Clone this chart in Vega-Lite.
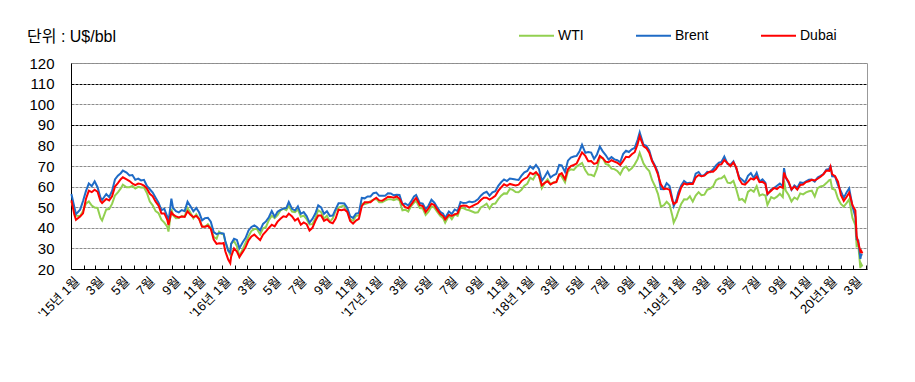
{
"$schema":"https://vega.github.io/schema/vega-lite/v6.json",
"autosize":{"type":"none"},
"padding":{"left":71,"top":63,"right":48,"bottom":113},
"width":796,"height":206,
"background":"white",
"config":{"view":{"stroke":"#999999","strokeWidth":1},"font":"Liberation Sans, Noto Sans CJK KR"},
"title":{"text":"단위 : U$/bbl","anchor":"start","frame":"group","dx":-44,"dy":48,"offset":20,"fontSize":16,"fontWeight":"normal","font":"Liberation Sans, Noto Sans CJK KR","color":"black"},
"datasets":{
"wti":[
{"d":"2015-01-02","v":52.7},{"d":"2015-01-09","v":48.4},{"d":"2015-01-13","v":45.9},{"d":"2015-01-23","v":45.6},{"d":"2015-01-30","v":48.2},{"d":"2015-02-06","v":51.7},{"d":"2015-02-13","v":52.8},{"d":"2015-02-20","v":50.8},{"d":"2015-02-27","v":49.8},{"d":"2015-03-06","v":49.6},{"d":"2015-03-13","v":44.8},{"d":"2015-03-17","v":43.5},{"d":"2015-03-27","v":48.9},{"d":"2015-04-03","v":49.1},{"d":"2015-04-10","v":51.6},{"d":"2015-04-17","v":55.7},{"d":"2015-04-24","v":57.2},{"d":"2015-05-01","v":59.1},{"d":"2015-05-06","v":60.9},{"d":"2015-05-15","v":59.7},{"d":"2015-05-22","v":59.7},{"d":"2015-05-29","v":60.3},{"d":"2015-06-05","v":59.1},{"d":"2015-06-12","v":59.9},{"d":"2015-06-19","v":59.6},{"d":"2015-06-26","v":59.6},{"d":"2015-07-03","v":56.9},{"d":"2015-07-10","v":52.7},{"d":"2015-07-17","v":50.9},{"d":"2015-07-24","v":48.1},{"d":"2015-07-31","v":47.1},{"d":"2015-08-07","v":43.9},{"d":"2015-08-14","v":42.5},{"d":"2015-08-21","v":40.5},{"d":"2015-08-24","v":38.2},{"d":"2015-08-31","v":49.2},{"d":"2015-09-04","v":46.1},{"d":"2015-09-11","v":44.6},{"d":"2015-09-18","v":44.7},{"d":"2015-09-25","v":45.7},{"d":"2015-10-02","v":45.5},{"d":"2015-10-09","v":49.6},{"d":"2015-10-16","v":47.3},{"d":"2015-10-23","v":44.6},{"d":"2015-10-30","v":46.6},{"d":"2015-11-06","v":44.3},{"d":"2015-11-13","v":40.7},{"d":"2015-11-20","v":40.5},{"d":"2015-11-27","v":41.7},{"d":"2015-12-04","v":39.9},{"d":"2015-12-11","v":35.6},{"d":"2015-12-18","v":34.7},{"d":"2015-12-24","v":38.1},{"d":"2015-12-31","v":37.0},
{"d":"2016-01-04","v":36.8},{"d":"2016-01-08","v":33.2},{"d":"2016-01-15","v":29.4},{"d":"2016-01-20","v":26.6},{"d":"2016-01-22","v":32.2},{"d":"2016-01-29","v":33.6},{"d":"2016-02-05","v":31.0},{"d":"2016-02-11","v":26.2},{"d":"2016-02-19","v":29.6},{"d":"2016-02-26","v":32.8},{"d":"2016-03-04","v":35.9},{"d":"2016-03-11","v":38.5},{"d":"2016-03-18","v":39.4},{"d":"2016-03-24","v":39.5},{"d":"2016-04-01","v":36.8},{"d":"2016-04-08","v":39.7},{"d":"2016-04-15","v":40.4},{"d":"2016-04-22","v":43.7},{"d":"2016-04-29","v":45.9},{"d":"2016-05-06","v":44.7},{"d":"2016-05-13","v":46.2},{"d":"2016-05-20","v":48.4},{"d":"2016-05-27","v":49.3},{"d":"2016-06-03","v":48.6},{"d":"2016-06-09","v":50.6},{"d":"2016-06-17","v":47.9},{"d":"2016-06-24","v":47.6},{"d":"2016-07-01","v":48.9},{"d":"2016-07-08","v":45.4},{"d":"2016-07-15","v":45.9},{"d":"2016-07-22","v":44.2},{"d":"2016-07-29","v":41.6},{"d":"2016-08-05","v":41.8},{"d":"2016-08-12","v":44.5},{"d":"2016-08-19","v":48.5},{"d":"2016-08-26","v":47.6},{"d":"2016-09-02","v":44.4},{"d":"2016-09-09","v":45.9},{"d":"2016-09-16","v":43.0},{"d":"2016-09-23","v":44.5},{"d":"2016-09-30","v":48.2},{"d":"2016-10-07","v":49.8},{"d":"2016-10-14","v":50.4},{"d":"2016-10-21","v":50.9},{"d":"2016-10-28","v":48.7},{"d":"2016-11-04","v":44.1},{"d":"2016-11-11","v":43.4},{"d":"2016-11-18","v":45.7},{"d":"2016-11-25","v":46.1},{"d":"2016-12-02","v":51.7},{"d":"2016-12-09","v":51.5},{"d":"2016-12-16","v":52.0},{"d":"2016-12-23","v":53.0},{"d":"2016-12-30","v":53.7},
{"d":"2017-01-06","v":54.0},{"d":"2017-01-13","v":52.4},{"d":"2017-01-20","v":52.4},{"d":"2017-01-27","v":53.2},{"d":"2017-02-03","v":53.8},{"d":"2017-02-10","v":53.9},{"d":"2017-02-17","v":53.4},{"d":"2017-02-24","v":54.0},{"d":"2017-03-03","v":53.3},{"d":"2017-03-10","v":48.5},{"d":"2017-03-17","v":48.8},{"d":"2017-03-24","v":47.9},{"d":"2017-03-31","v":50.6},{"d":"2017-04-07","v":52.2},{"d":"2017-04-12","v":53.1},{"d":"2017-04-21","v":49.6},{"d":"2017-04-28","v":49.3},{"d":"2017-05-05","v":46.2},{"d":"2017-05-12","v":47.8},{"d":"2017-05-19","v":50.3},{"d":"2017-05-26","v":49.8},{"d":"2017-06-02","v":47.7},{"d":"2017-06-09","v":45.8},{"d":"2017-06-16","v":44.7},{"d":"2017-06-21","v":42.5},{"d":"2017-06-30","v":46.0},{"d":"2017-07-07","v":44.2},{"d":"2017-07-14","v":46.5},{"d":"2017-07-21","v":45.8},{"d":"2017-07-28","v":49.7},{"d":"2017-08-04","v":49.6},{"d":"2017-08-11","v":48.8},{"d":"2017-08-18","v":48.5},{"d":"2017-08-25","v":47.9},{"d":"2017-09-01","v":47.3},{"d":"2017-09-08","v":47.5},{"d":"2017-09-15","v":49.9},{"d":"2017-09-22","v":50.7},{"d":"2017-09-29","v":51.7},{"d":"2017-10-06","v":49.3},{"d":"2017-10-13","v":51.5},{"d":"2017-10-20","v":51.8},{"d":"2017-10-27","v":53.9},{"d":"2017-11-03","v":55.6},{"d":"2017-11-10","v":56.7},{"d":"2017-11-17","v":56.6},{"d":"2017-11-24","v":58.9},{"d":"2017-12-01","v":58.4},{"d":"2017-12-08","v":57.4},{"d":"2017-12-15","v":57.3},{"d":"2017-12-22","v":58.5},{"d":"2017-12-29","v":60.4},
{"d":"2018-01-05","v":61.4},{"d":"2018-01-12","v":64.3},{"d":"2018-01-19","v":63.4},{"d":"2018-01-26","v":66.1},{"d":"2018-02-02","v":65.5},{"d":"2018-02-09","v":59.2},{"d":"2018-02-16","v":61.7},{"d":"2018-02-23","v":63.6},{"d":"2018-03-02","v":61.3},{"d":"2018-03-09","v":62.0},{"d":"2018-03-16","v":62.3},{"d":"2018-03-23","v":65.9},{"d":"2018-03-29","v":64.9},{"d":"2018-04-06","v":62.1},{"d":"2018-04-13","v":67.4},{"d":"2018-04-20","v":68.4},{"d":"2018-04-27","v":68.1},{"d":"2018-05-04","v":69.7},{"d":"2018-05-11","v":70.7},{"d":"2018-05-17","v":71.5},{"d":"2018-05-25","v":67.9},{"d":"2018-06-01","v":65.8},{"d":"2018-06-08","v":65.7},{"d":"2018-06-15","v":65.1},{"d":"2018-06-22","v":68.6},{"d":"2018-06-29","v":74.2},{"d":"2018-07-06","v":73.8},{"d":"2018-07-13","v":71.0},{"d":"2018-07-20","v":70.5},{"d":"2018-07-27","v":68.7},{"d":"2018-08-03","v":68.5},{"d":"2018-08-10","v":67.6},{"d":"2018-08-17","v":65.9},{"d":"2018-08-24","v":68.7},{"d":"2018-08-31","v":69.8},{"d":"2018-09-07","v":67.8},{"d":"2018-09-14","v":68.9},{"d":"2018-09-21","v":70.8},{"d":"2018-09-28","v":73.3},{"d":"2018-10-03","v":76.4},{"d":"2018-10-12","v":71.3},{"d":"2018-10-19","v":69.1},{"d":"2018-10-26","v":67.6},{"d":"2018-11-02","v":63.1},{"d":"2018-11-09","v":60.2},{"d":"2018-11-16","v":56.5},{"d":"2018-11-23","v":50.4},{"d":"2018-11-30","v":50.9},{"d":"2018-12-07","v":52.6},{"d":"2018-12-14","v":51.2},{"d":"2018-12-21","v":45.6},{"d":"2018-12-24","v":42.5},{"d":"2018-12-31","v":45.4},
{"d":"2019-01-04","v":47.9},{"d":"2019-01-11","v":51.6},{"d":"2019-01-18","v":53.8},{"d":"2019-01-25","v":53.7},{"d":"2019-02-01","v":55.3},{"d":"2019-02-08","v":52.7},{"d":"2019-02-15","v":55.6},{"d":"2019-02-22","v":57.3},{"d":"2019-03-01","v":55.8},{"d":"2019-03-08","v":56.1},{"d":"2019-03-15","v":58.5},{"d":"2019-03-22","v":59.0},{"d":"2019-03-29","v":60.1},{"d":"2019-04-05","v":63.1},{"d":"2019-04-12","v":63.9},{"d":"2019-04-18","v":64.0},{"d":"2019-04-25","v":65.2},{"d":"2019-05-03","v":61.9},{"d":"2019-05-10","v":61.7},{"d":"2019-05-17","v":62.8},{"d":"2019-05-24","v":58.6},{"d":"2019-05-31","v":53.5},{"d":"2019-06-07","v":54.0},{"d":"2019-06-14","v":52.5},{"d":"2019-06-21","v":57.4},{"d":"2019-06-28","v":58.5},{"d":"2019-07-05","v":57.5},{"d":"2019-07-12","v":60.2},{"d":"2019-07-19","v":55.6},{"d":"2019-07-26","v":56.2},{"d":"2019-08-02","v":55.7},{"d":"2019-08-07","v":51.1},{"d":"2019-08-16","v":54.9},{"d":"2019-08-23","v":54.2},{"d":"2019-08-30","v":55.1},{"d":"2019-09-06","v":56.5},{"d":"2019-09-13","v":54.9},{"d":"2019-09-16","v":62.9},{"d":"2019-09-20","v":58.1},{"d":"2019-09-27","v":55.9},{"d":"2019-10-04","v":52.8},{"d":"2019-10-11","v":54.7},{"d":"2019-10-18","v":53.8},{"d":"2019-10-25","v":56.7},{"d":"2019-11-01","v":56.2},{"d":"2019-11-08","v":57.2},{"d":"2019-11-15","v":57.7},{"d":"2019-11-22","v":58.0},{"d":"2019-11-29","v":55.2},{"d":"2019-12-06","v":59.2},{"d":"2019-12-13","v":60.1},{"d":"2019-12-20","v":60.4},{"d":"2019-12-27","v":61.7},
{"d":"2020-01-03","v":63.1},{"d":"2020-01-06","v":63.3},{"d":"2020-01-10","v":59.0},{"d":"2020-01-17","v":58.5},{"d":"2020-01-24","v":54.2},{"d":"2020-01-31","v":51.6},{"d":"2020-02-07","v":50.3},{"d":"2020-02-14","v":52.1},{"d":"2020-02-20","v":53.8},{"d":"2020-02-28","v":44.8},{"d":"2020-03-06","v":41.3},{"d":"2020-03-09","v":31.1},{"d":"2020-03-13","v":31.7},{"d":"2020-03-18","v":20.4},{"d":"2020-03-20","v":22.4},{"d":"2020-03-23","v":21.2}
],
"brent":[
{"d":"2015-01-02","v":56.4},{"d":"2015-01-09","v":50.1},{"d":"2015-01-13","v":46.6},{"d":"2015-01-23","v":48.8},{"d":"2015-01-30","v":53.0},{"d":"2015-02-06","v":57.8},{"d":"2015-02-13","v":61.5},{"d":"2015-02-20","v":60.2},{"d":"2015-02-27","v":62.6},{"d":"2015-03-06","v":59.7},{"d":"2015-03-13","v":54.7},{"d":"2015-03-17","v":53.5},{"d":"2015-03-27","v":56.4},{"d":"2015-04-03","v":54.9},{"d":"2015-04-10","v":57.9},{"d":"2015-04-17","v":63.5},{"d":"2015-04-24","v":65.3},{"d":"2015-05-01","v":66.5},{"d":"2015-05-06","v":67.8},{"d":"2015-05-15","v":66.8},{"d":"2015-05-22","v":65.4},{"d":"2015-05-29","v":65.6},{"d":"2015-06-05","v":63.3},{"d":"2015-06-12","v":63.9},{"d":"2015-06-19","v":63.0},{"d":"2015-06-26","v":63.3},{"d":"2015-07-03","v":60.3},{"d":"2015-07-10","v":58.7},{"d":"2015-07-17","v":57.1},{"d":"2015-07-24","v":54.6},{"d":"2015-07-31","v":52.2},{"d":"2015-08-07","v":48.6},{"d":"2015-08-14","v":49.2},{"d":"2015-08-21","v":45.5},{"d":"2015-08-24","v":42.7},{"d":"2015-08-31","v":54.2},{"d":"2015-09-04","v":49.6},{"d":"2015-09-11","v":48.1},{"d":"2015-09-18","v":47.5},{"d":"2015-09-25","v":48.6},{"d":"2015-10-02","v":48.1},{"d":"2015-10-09","v":52.7},{"d":"2015-10-16","v":50.5},{"d":"2015-10-23","v":48.0},{"d":"2015-10-30","v":49.6},{"d":"2015-11-06","v":47.4},{"d":"2015-11-13","v":43.6},{"d":"2015-11-20","v":44.7},{"d":"2015-11-27","v":44.9},{"d":"2015-12-04","v":43.0},{"d":"2015-12-11","v":37.9},{"d":"2015-12-18","v":36.9},{"d":"2015-12-24","v":37.4},{"d":"2015-12-31","v":37.3},
{"d":"2016-01-04","v":37.2},{"d":"2016-01-08","v":33.6},{"d":"2016-01-15","v":28.9},{"d":"2016-01-20","v":27.9},{"d":"2016-01-22","v":32.2},{"d":"2016-01-29","v":34.7},{"d":"2016-02-05","v":34.1},{"d":"2016-02-11","v":30.1},{"d":"2016-02-19","v":33.0},{"d":"2016-02-26","v":35.1},{"d":"2016-03-04","v":38.7},{"d":"2016-03-11","v":40.4},{"d":"2016-03-18","v":41.2},{"d":"2016-03-24","v":40.4},{"d":"2016-04-01","v":38.7},{"d":"2016-04-08","v":41.9},{"d":"2016-04-15","v":43.1},{"d":"2016-04-22","v":45.1},{"d":"2016-04-29","v":48.1},{"d":"2016-05-06","v":45.4},{"d":"2016-05-13","v":47.8},{"d":"2016-05-20","v":48.7},{"d":"2016-05-27","v":49.3},{"d":"2016-06-03","v":49.6},{"d":"2016-06-09","v":52.5},{"d":"2016-06-17","v":49.2},{"d":"2016-06-24","v":48.4},{"d":"2016-07-01","v":50.4},{"d":"2016-07-08","v":46.8},{"d":"2016-07-15","v":47.6},{"d":"2016-07-22","v":45.7},{"d":"2016-07-29","v":42.5},{"d":"2016-08-05","v":44.3},{"d":"2016-08-12","v":46.9},{"d":"2016-08-19","v":50.9},{"d":"2016-08-26","v":49.9},{"d":"2016-09-02","v":46.8},{"d":"2016-09-09","v":48.0},{"d":"2016-09-16","v":45.8},{"d":"2016-09-23","v":45.9},{"d":"2016-09-30","v":49.1},{"d":"2016-10-07","v":51.9},{"d":"2016-10-14","v":51.9},{"d":"2016-10-21","v":51.8},{"d":"2016-10-28","v":49.7},{"d":"2016-11-04","v":45.6},{"d":"2016-11-11","v":44.8},{"d":"2016-11-18","v":46.9},{"d":"2016-11-25","v":47.2},{"d":"2016-12-02","v":54.5},{"d":"2016-12-09","v":54.3},{"d":"2016-12-16","v":55.2},{"d":"2016-12-23","v":55.2},{"d":"2016-12-30","v":56.8},
{"d":"2017-01-06","v":57.1},{"d":"2017-01-13","v":55.5},{"d":"2017-01-20","v":55.5},{"d":"2017-01-27","v":55.5},{"d":"2017-02-03","v":56.8},{"d":"2017-02-10","v":56.7},{"d":"2017-02-17","v":55.8},{"d":"2017-02-24","v":56.0},{"d":"2017-03-03","v":55.9},{"d":"2017-03-10","v":51.4},{"d":"2017-03-17","v":51.8},{"d":"2017-03-24","v":50.8},{"d":"2017-03-31","v":52.8},{"d":"2017-04-07","v":55.2},{"d":"2017-04-12","v":55.9},{"d":"2017-04-21","v":52.0},{"d":"2017-04-28","v":51.7},{"d":"2017-05-05","v":49.1},{"d":"2017-05-12","v":50.8},{"d":"2017-05-19","v":53.6},{"d":"2017-05-26","v":52.2},{"d":"2017-06-02","v":49.9},{"d":"2017-06-09","v":47.8},{"d":"2017-06-16","v":46.8},{"d":"2017-06-21","v":44.8},{"d":"2017-06-30","v":47.9},{"d":"2017-07-07","v":46.7},{"d":"2017-07-14","v":48.9},{"d":"2017-07-21","v":48.1},{"d":"2017-07-28","v":52.5},{"d":"2017-08-04","v":52.0},{"d":"2017-08-11","v":52.1},{"d":"2017-08-18","v":52.7},{"d":"2017-08-25","v":52.4},{"d":"2017-09-01","v":52.8},{"d":"2017-09-08","v":53.8},{"d":"2017-09-15","v":55.6},{"d":"2017-09-22","v":56.9},{"d":"2017-09-29","v":57.5},{"d":"2017-10-06","v":55.6},{"d":"2017-10-13","v":57.2},{"d":"2017-10-20","v":57.8},{"d":"2017-10-27","v":60.4},{"d":"2017-11-03","v":62.1},{"d":"2017-11-10","v":63.5},{"d":"2017-11-17","v":62.7},{"d":"2017-11-24","v":63.9},{"d":"2017-12-01","v":63.7},{"d":"2017-12-08","v":63.4},{"d":"2017-12-15","v":63.2},{"d":"2017-12-22","v":65.3},{"d":"2017-12-29","v":66.9},
{"d":"2018-01-05","v":67.6},{"d":"2018-01-12","v":69.9},{"d":"2018-01-19","v":68.6},{"d":"2018-01-26","v":70.5},{"d":"2018-02-02","v":68.6},{"d":"2018-02-09","v":62.8},{"d":"2018-02-16","v":64.8},{"d":"2018-02-23","v":67.3},{"d":"2018-03-02","v":64.4},{"d":"2018-03-09","v":65.5},{"d":"2018-03-16","v":66.2},{"d":"2018-03-23","v":70.5},{"d":"2018-03-29","v":70.3},{"d":"2018-04-06","v":67.1},{"d":"2018-04-13","v":72.6},{"d":"2018-04-20","v":74.1},{"d":"2018-04-27","v":74.6},{"d":"2018-05-04","v":74.9},{"d":"2018-05-11","v":77.1},{"d":"2018-05-17","v":80.3},{"d":"2018-05-25","v":76.4},{"d":"2018-06-01","v":76.8},{"d":"2018-06-08","v":76.5},{"d":"2018-06-15","v":73.4},{"d":"2018-06-22","v":75.6},{"d":"2018-06-29","v":79.4},{"d":"2018-07-06","v":77.1},{"d":"2018-07-13","v":75.3},{"d":"2018-07-20","v":73.1},{"d":"2018-07-27","v":74.3},{"d":"2018-08-03","v":73.2},{"d":"2018-08-10","v":72.8},{"d":"2018-08-17","v":71.8},{"d":"2018-08-24","v":75.8},{"d":"2018-08-31","v":77.4},{"d":"2018-09-07","v":76.8},{"d":"2018-09-14","v":78.1},{"d":"2018-09-21","v":78.8},{"d":"2018-09-28","v":82.7},{"d":"2018-10-03","v":86.3},{"d":"2018-10-12","v":80.4},{"d":"2018-10-19","v":79.8},{"d":"2018-10-26","v":77.6},{"d":"2018-11-02","v":72.8},{"d":"2018-11-09","v":70.2},{"d":"2018-11-16","v":66.8},{"d":"2018-11-23","v":58.8},{"d":"2018-11-30","v":58.7},{"d":"2018-12-07","v":61.7},{"d":"2018-12-14","v":60.3},{"d":"2018-12-21","v":53.8},{"d":"2018-12-24","v":50.5},{"d":"2018-12-31","v":53.8},
{"d":"2019-01-04","v":57.1},{"d":"2019-01-11","v":60.5},{"d":"2019-01-18","v":62.7},{"d":"2019-01-25","v":61.6},{"d":"2019-02-01","v":61.9},{"d":"2019-02-08","v":61.6},{"d":"2019-02-15","v":66.3},{"d":"2019-02-22","v":67.1},{"d":"2019-03-01","v":65.1},{"d":"2019-03-08","v":65.7},{"d":"2019-03-15","v":67.2},{"d":"2019-03-22","v":67.0},{"d":"2019-03-29","v":68.4},{"d":"2019-04-05","v":70.3},{"d":"2019-04-12","v":71.6},{"d":"2019-04-18","v":72.0},{"d":"2019-04-25","v":74.6},{"d":"2019-05-03","v":70.9},{"d":"2019-05-10","v":70.6},{"d":"2019-05-17","v":72.2},{"d":"2019-05-24","v":68.7},{"d":"2019-05-31","v":64.5},{"d":"2019-06-07","v":63.3},{"d":"2019-06-14","v":62.0},{"d":"2019-06-21","v":65.2},{"d":"2019-06-28","v":66.6},{"d":"2019-07-05","v":64.2},{"d":"2019-07-12","v":66.7},{"d":"2019-07-19","v":62.5},{"d":"2019-07-26","v":63.5},{"d":"2019-08-02","v":61.9},{"d":"2019-08-07","v":56.2},{"d":"2019-08-16","v":58.6},{"d":"2019-08-23","v":59.3},{"d":"2019-08-30","v":60.4},{"d":"2019-09-06","v":61.5},{"d":"2019-09-13","v":60.2},{"d":"2019-09-16","v":69.0},{"d":"2019-09-20","v":64.3},{"d":"2019-09-27","v":61.9},{"d":"2019-10-04","v":58.4},{"d":"2019-10-11","v":60.5},{"d":"2019-10-18","v":59.4},{"d":"2019-10-25","v":62.0},{"d":"2019-11-01","v":61.7},{"d":"2019-11-08","v":62.5},{"d":"2019-11-15","v":63.3},{"d":"2019-11-22","v":63.4},{"d":"2019-11-29","v":62.4},{"d":"2019-12-06","v":64.4},{"d":"2019-12-13","v":65.2},{"d":"2019-12-20","v":66.1},{"d":"2019-12-27","v":68.2},
{"d":"2020-01-03","v":68.6},{"d":"2020-01-06","v":70.3},{"d":"2020-01-10","v":65.0},{"d":"2020-01-17","v":64.9},{"d":"2020-01-24","v":60.7},{"d":"2020-01-31","v":57.8},{"d":"2020-02-07","v":54.5},{"d":"2020-02-14","v":57.3},{"d":"2020-02-20","v":59.1},{"d":"2020-02-28","v":50.5},{"d":"2020-03-06","v":45.3},{"d":"2020-03-09","v":34.4},{"d":"2020-03-13","v":33.9},{"d":"2020-03-18","v":24.9},{"d":"2020-03-20","v":27.0},{"d":"2020-03-23","v":26.8}
],
"dubai":[
{"d":"2015-01-02","v":53.3},{"d":"2015-01-09","v":46.5},{"d":"2015-01-13","v":43.9},{"d":"2015-01-23","v":45.5},{"d":"2015-01-30","v":47.0},{"d":"2015-02-06","v":54.0},{"d":"2015-02-13","v":58.0},{"d":"2015-02-20","v":57.3},{"d":"2015-02-27","v":58.5},{"d":"2015-03-06","v":57.5},{"d":"2015-03-13","v":53.0},{"d":"2015-03-17","v":52.0},{"d":"2015-03-27","v":54.0},{"d":"2015-04-03","v":53.3},{"d":"2015-04-10","v":55.3},{"d":"2015-04-17","v":60.0},{"d":"2015-04-24","v":61.7},{"d":"2015-05-01","v":63.6},{"d":"2015-05-06","v":64.5},{"d":"2015-05-15","v":63.5},{"d":"2015-05-22","v":62.7},{"d":"2015-05-29","v":61.5},{"d":"2015-06-05","v":60.7},{"d":"2015-06-12","v":61.5},{"d":"2015-06-19","v":61.2},{"d":"2015-06-26","v":60.5},{"d":"2015-07-03","v":59.0},{"d":"2015-07-10","v":56.5},{"d":"2015-07-17","v":55.3},{"d":"2015-07-24","v":52.7},{"d":"2015-07-31","v":50.8},{"d":"2015-08-07","v":47.0},{"d":"2015-08-14","v":47.0},{"d":"2015-08-21","v":44.0},{"d":"2015-08-24","v":41.3},{"d":"2015-08-31","v":47.5},{"d":"2015-09-04","v":46.5},{"d":"2015-09-11","v":45.5},{"d":"2015-09-18","v":45.0},{"d":"2015-09-25","v":45.5},{"d":"2015-10-02","v":45.3},{"d":"2015-10-09","v":48.0},{"d":"2015-10-16","v":46.3},{"d":"2015-10-23","v":45.2},{"d":"2015-10-30","v":45.8},{"d":"2015-11-06","v":44.2},{"d":"2015-11-13","v":40.5},{"d":"2015-11-20","v":40.5},{"d":"2015-11-27","v":41.0},{"d":"2015-12-04","v":39.5},{"d":"2015-12-11","v":34.3},{"d":"2015-12-18","v":32.2},{"d":"2015-12-24","v":32.5},{"d":"2015-12-31","v":32.4},
{"d":"2016-01-04","v":32.6},{"d":"2016-01-08","v":28.6},{"d":"2016-01-15","v":24.6},{"d":"2016-01-20","v":22.8},{"d":"2016-01-22","v":26.0},{"d":"2016-01-29","v":30.0},{"d":"2016-02-05","v":28.5},{"d":"2016-02-11","v":25.8},{"d":"2016-02-19","v":28.3},{"d":"2016-02-26","v":30.6},{"d":"2016-03-04","v":33.9},{"d":"2016-03-11","v":35.8},{"d":"2016-03-18","v":36.7},{"d":"2016-03-24","v":35.5},{"d":"2016-04-01","v":34.0},{"d":"2016-04-08","v":36.7},{"d":"2016-04-15","v":38.3},{"d":"2016-04-22","v":40.0},{"d":"2016-04-29","v":41.5},{"d":"2016-05-06","v":40.7},{"d":"2016-05-13","v":43.0},{"d":"2016-05-20","v":44.4},{"d":"2016-05-27","v":45.6},{"d":"2016-06-03","v":45.3},{"d":"2016-06-09","v":46.9},{"d":"2016-06-17","v":45.5},{"d":"2016-06-24","v":43.5},{"d":"2016-07-01","v":44.5},{"d":"2016-07-08","v":41.5},{"d":"2016-07-15","v":42.6},{"d":"2016-07-22","v":41.8},{"d":"2016-07-29","v":38.7},{"d":"2016-08-05","v":40.0},{"d":"2016-08-12","v":43.3},{"d":"2016-08-19","v":46.0},{"d":"2016-08-26","v":46.0},{"d":"2016-09-02","v":43.4},{"d":"2016-09-09","v":44.2},{"d":"2016-09-16","v":42.7},{"d":"2016-09-23","v":42.2},{"d":"2016-09-30","v":44.5},{"d":"2016-10-07","v":48.8},{"d":"2016-10-14","v":48.5},{"d":"2016-10-21","v":48.9},{"d":"2016-10-28","v":47.7},{"d":"2016-11-04","v":43.3},{"d":"2016-11-11","v":42.0},{"d":"2016-11-18","v":43.5},{"d":"2016-11-25","v":44.3},{"d":"2016-12-02","v":50.5},{"d":"2016-12-09","v":52.4},{"d":"2016-12-16","v":52.4},{"d":"2016-12-23","v":52.4},{"d":"2016-12-30","v":53.6},
{"d":"2017-01-06","v":54.6},{"d":"2017-01-13","v":53.3},{"d":"2017-01-20","v":53.1},{"d":"2017-01-27","v":54.0},{"d":"2017-02-03","v":55.1},{"d":"2017-02-10","v":55.0},{"d":"2017-02-17","v":54.6},{"d":"2017-02-24","v":55.2},{"d":"2017-03-03","v":54.1},{"d":"2017-03-10","v":51.5},{"d":"2017-03-17","v":50.0},{"d":"2017-03-24","v":49.5},{"d":"2017-03-31","v":51.2},{"d":"2017-04-07","v":53.3},{"d":"2017-04-12","v":54.5},{"d":"2017-04-21","v":51.0},{"d":"2017-04-28","v":50.5},{"d":"2017-05-05","v":47.6},{"d":"2017-05-12","v":49.5},{"d":"2017-05-19","v":51.7},{"d":"2017-05-26","v":51.0},{"d":"2017-06-02","v":48.8},{"d":"2017-06-09","v":46.8},{"d":"2017-06-16","v":45.7},{"d":"2017-06-21","v":44.0},{"d":"2017-06-30","v":46.3},{"d":"2017-07-07","v":45.8},{"d":"2017-07-14","v":46.5},{"d":"2017-07-21","v":47.0},{"d":"2017-07-28","v":50.5},{"d":"2017-08-04","v":50.8},{"d":"2017-08-11","v":50.7},{"d":"2017-08-18","v":49.8},{"d":"2017-08-25","v":50.5},{"d":"2017-09-01","v":51.2},{"d":"2017-09-08","v":51.9},{"d":"2017-09-15","v":53.5},{"d":"2017-09-22","v":54.6},{"d":"2017-09-29","v":54.6},{"d":"2017-10-06","v":53.7},{"d":"2017-10-13","v":54.5},{"d":"2017-10-20","v":55.5},{"d":"2017-10-27","v":57.9},{"d":"2017-11-03","v":59.6},{"d":"2017-11-10","v":61.1},{"d":"2017-11-17","v":60.4},{"d":"2017-11-24","v":61.3},{"d":"2017-12-01","v":60.9},{"d":"2017-12-08","v":60.5},{"d":"2017-12-15","v":60.9},{"d":"2017-12-22","v":62.7},{"d":"2017-12-29","v":63.8},
{"d":"2018-01-05","v":64.5},{"d":"2018-01-12","v":66.7},{"d":"2018-01-19","v":66.0},{"d":"2018-01-26","v":67.0},{"d":"2018-02-02","v":65.4},{"d":"2018-02-09","v":60.6},{"d":"2018-02-16","v":61.8},{"d":"2018-02-23","v":62.6},{"d":"2018-03-02","v":61.0},{"d":"2018-03-09","v":61.9},{"d":"2018-03-16","v":62.2},{"d":"2018-03-23","v":65.8},{"d":"2018-03-29","v":66.5},{"d":"2018-04-06","v":63.6},{"d":"2018-04-13","v":68.4},{"d":"2018-04-20","v":70.0},{"d":"2018-04-27","v":70.5},{"d":"2018-05-04","v":71.2},{"d":"2018-05-11","v":74.1},{"d":"2018-05-17","v":76.6},{"d":"2018-05-25","v":74.9},{"d":"2018-06-01","v":72.3},{"d":"2018-06-08","v":72.4},{"d":"2018-06-15","v":71.0},{"d":"2018-06-22","v":71.5},{"d":"2018-06-29","v":74.9},{"d":"2018-07-06","v":73.8},{"d":"2018-07-13","v":72.1},{"d":"2018-07-20","v":71.8},{"d":"2018-07-27","v":72.8},{"d":"2018-08-03","v":72.1},{"d":"2018-08-10","v":71.6},{"d":"2018-08-17","v":70.5},{"d":"2018-08-24","v":72.4},{"d":"2018-08-31","v":74.5},{"d":"2018-09-07","v":74.3},{"d":"2018-09-14","v":75.7},{"d":"2018-09-21","v":76.7},{"d":"2018-09-28","v":80.6},{"d":"2018-10-03","v":84.4},{"d":"2018-10-12","v":79.7},{"d":"2018-10-19","v":78.7},{"d":"2018-10-26","v":76.5},{"d":"2018-11-02","v":72.3},{"d":"2018-11-09","v":69.6},{"d":"2018-11-16","v":65.9},{"d":"2018-11-23","v":61.1},{"d":"2018-11-30","v":58.9},{"d":"2018-12-07","v":59.0},{"d":"2018-12-14","v":58.5},{"d":"2018-12-21","v":53.1},{"d":"2018-12-24","v":51.6},{"d":"2018-12-31","v":52.5},
{"d":"2019-01-04","v":55.4},{"d":"2019-01-11","v":59.6},{"d":"2019-01-18","v":61.5},{"d":"2019-01-25","v":61.0},{"d":"2019-02-01","v":61.4},{"d":"2019-02-08","v":61.3},{"d":"2019-02-15","v":64.4},{"d":"2019-02-22","v":65.6},{"d":"2019-03-01","v":65.0},{"d":"2019-03-08","v":65.3},{"d":"2019-03-15","v":66.6},{"d":"2019-03-22","v":67.3},{"d":"2019-03-29","v":67.2},{"d":"2019-04-05","v":68.5},{"d":"2019-04-12","v":70.6},{"d":"2019-04-18","v":70.8},{"d":"2019-04-25","v":72.9},{"d":"2019-05-03","v":71.3},{"d":"2019-05-10","v":69.9},{"d":"2019-05-17","v":71.7},{"d":"2019-05-24","v":69.2},{"d":"2019-05-31","v":63.6},{"d":"2019-06-07","v":61.3},{"d":"2019-06-14","v":61.0},{"d":"2019-06-21","v":62.4},{"d":"2019-06-28","v":64.0},{"d":"2019-07-05","v":63.4},{"d":"2019-07-12","v":64.8},{"d":"2019-07-19","v":62.1},{"d":"2019-07-26","v":62.3},{"d":"2019-08-02","v":61.3},{"d":"2019-08-07","v":56.5},{"d":"2019-08-16","v":58.0},{"d":"2019-08-23","v":59.4},{"d":"2019-08-30","v":58.8},{"d":"2019-09-06","v":60.0},{"d":"2019-09-13","v":59.4},{"d":"2019-09-16","v":66.8},{"d":"2019-09-20","v":64.6},{"d":"2019-09-27","v":62.4},{"d":"2019-10-04","v":58.6},{"d":"2019-10-11","v":60.0},{"d":"2019-10-18","v":58.5},{"d":"2019-10-25","v":60.8},{"d":"2019-11-01","v":61.0},{"d":"2019-11-08","v":62.2},{"d":"2019-11-15","v":62.6},{"d":"2019-11-22","v":63.3},{"d":"2019-11-29","v":63.0},{"d":"2019-12-06","v":63.8},{"d":"2019-12-13","v":64.8},{"d":"2019-12-20","v":66.0},{"d":"2019-12-27","v":67.8},
{"d":"2020-01-03","v":67.6},{"d":"2020-01-06","v":69.6},{"d":"2020-01-10","v":66.0},{"d":"2020-01-17","v":65.0},{"d":"2020-01-24","v":62.4},{"d":"2020-01-31","v":56.0},{"d":"2020-02-07","v":53.0},{"d":"2020-02-14","v":55.1},{"d":"2020-02-20","v":57.0},{"d":"2020-02-28","v":51.0},{"d":"2020-03-06","v":48.4},{"d":"2020-03-09","v":36.0},{"d":"2020-03-13","v":32.8},{"d":"2020-03-18","v":28.5},{"d":"2020-03-20","v":28.9},{"d":"2020-03-23","v":27.6}
]
},
"encoding":{
"x":{"field":"d","type":"temporal","scale":{"type":"utc","domain":[{"year":2015,"month":1,"date":1,"utc":true},{"year":2020,"month":4,"date":3,"utc":true}]},
"axis":{"title":null,"grid":false,"tickCount":{"interval":"month","step":1},"labelExpr":"utcmonth(datum.value)%2==0 ? (utcmonth(datum.value)==0 ? (utcyear(datum.value)==2020 ? '20년1월' : \"'\" + (utcyear(datum.value)-2000) + '년 1월') : (utcmonth(datum.value)+1) + '월') : ''","labelAngle":-45,"labelAlign":"right","labelBaseline":"middle","labelOffset":6,"labelPadding":14,"tickSize":-4,"tickColor":"black","domainColor":"black","labelFontSize":13,"labelFont":"Liberation Sans, Noto Sans CJK KR","labelColor":"black","labelOverlap":false,"labelBound":false,"labelFlush":false}},
"y":{"field":"v","type":"quantitative","scale":{"domain":[20,120],"nice":false,"zero":false},
"axis":{"title":null,"values":[20,30,40,50,60,70,80,90,100,110,120],"ticks":false,"labelPadding":17,"labelFontSize":15,"labelFont":"Liberation Sans","labelColor":"black","domainColor":"black","gridColor":{"condition":{"test":"datum.value==110||datum.value==90","value":"#000000"},"value":"#8c8c8c"},"gridDash":[3,1],"gridWidth":1}},
"color":{"type":"nominal","scale":{"domain":["WTI","Brent","Dubai"],"range":["#92D050","#1F6BC6","#FF0000"]},
"legend":{"title":null,"orient":"none","legendX":447,"legendY":-46,"direction":"horizontal","symbolType":"stroke","symbolSize":1225,"symbolStrokeWidth":2,"labelFontSize":14,"labelFont":"Liberation Sans","labelColor":"black","labelOffset":3,"columnPadding":48}}
},
"layer":[
{"data":{"name":"wti"},"mark":{"type":"line","strokeWidth":2},"encoding":{"color":{"datum":"WTI"}}},
{"data":{"name":"brent"},"mark":{"type":"line","strokeWidth":2},"encoding":{"color":{"datum":"Brent"}}},
{"data":{"name":"dubai"},"mark":{"type":"line","strokeWidth":2},"encoding":{"color":{"datum":"Dubai"}}}
]
}
